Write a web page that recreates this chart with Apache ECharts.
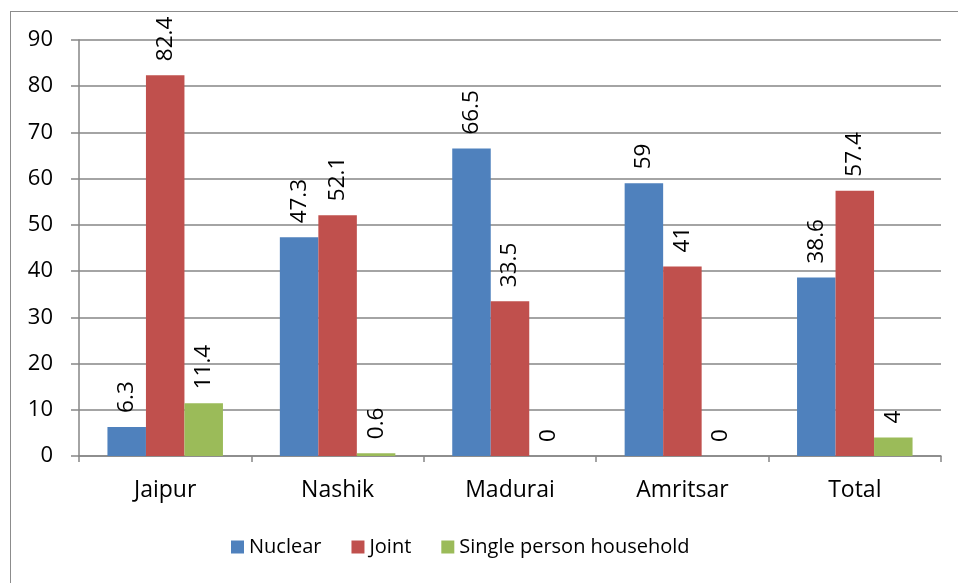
<!DOCTYPE html>
<html>
<head>
<meta charset="utf-8">
<script src="https://cdn.jsdelivr.net/npm/echarts@6/dist/echarts.min.js"></script>
<style>
  html, body { margin: 0; padding: 0; background: #fff; }
  #frame { position: absolute; left: 10px; top: 11px; width: 960px; height: 600px; border: 1.5px solid #8c8c8c; box-sizing: border-box; }
  #chart { position: absolute; left: 0; top: 0; width: 958px; height: 583px; }
</style>
</head>
<body>
<div id="frame"></div>
<div id="chart"></div>
<script>
// Household type share (%) by city
const categories = ['Jaipur', 'Nashik', 'Madurai', 'Amritsar', 'Total'];
const nuclear = [6.3, 47.3, 66.5, 59, 38.6];
const joint = [82.4, 52.1, 33.5, 41, 57.4];
const single = [11.4, 0.6, 0, 0, 4];
const yTicks = [0, 10, 20, 30, 40, 50, 60, 70, 80, 90];

const FONT = '"Open Sans", "DejaVu Sans", sans-serif';
const chart = echarts.init(document.getElementById('chart'), null, { renderer: 'canvas' });

const labelStyle = {
  show: true,
  position: 'top',
  rotate: 90,
  align: 'left',
  verticalAlign: 'middle',
  distance: 14,
  fontFamily: FONT,
  fontSize: 22.5,
  color: '#000'
};

function barSeries(name, data, color) {
  return {
    name: name,
    type: 'bar',
    data: data,
    barGap: '0%',
    barCategoryGap: '33%',
    itemStyle: { color: color },
    label: labelStyle
  };
}

chart.setOption({
  animation: false,
  textStyle: { fontFamily: FONT },
  grid: { left: 79, right: 17, top: 40, bottom: 127, containLabel: false },
  legend: {
    bottom: 21,
    left: 226,
    itemWidth: 13,
    itemHeight: 13,
    itemGap: 30,
    icon: 'rect',
    textStyle: { fontFamily: FONT, fontSize: 20, color: '#000' },
    data: ['Nuclear', 'Joint', 'Single person household']
  },
  xAxis: {
    type: 'category',
    data: categories,
    axisLine: { lineStyle: { color: '#868686', width: 1.5 } },
    axisTick: { show: true, length: 6, lineStyle: { color: '#868686', width: 1.5 } },
    axisLabel: { fontFamily: FONT, fontSize: 23, color: '#000', margin: 23 }
  },
  yAxis: {
    type: 'value',
    min: yTicks[0],
    max: yTicks[yTicks.length - 1],
    interval: 10,
    axisLine: { show: true, lineStyle: { color: '#868686', width: 1.5 } },
    axisTick: { show: true, length: 8, lineStyle: { color: '#868686', width: 1.5 } },
    axisLabel: { fontFamily: FONT, fontSize: 22, color: '#000', margin: 26 },
    splitLine: { show: true, lineStyle: { color: '#868686', width: 1.5 } }
  },
  series: [
    barSeries('Nuclear', nuclear, '#4f81bd'),
    barSeries('Joint', joint, '#c0504d'),
    barSeries('Single person household', single, '#9bbb59')
  ]
});
</script>
</body>
</html>
